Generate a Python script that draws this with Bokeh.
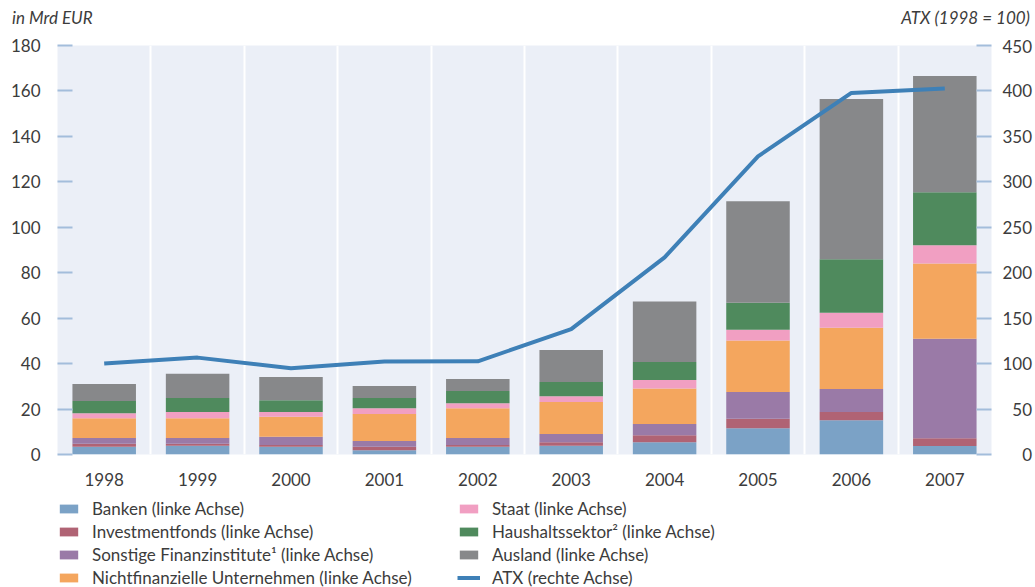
from bokeh.plotting import figure
from bokeh.layouts import column
from bokeh.models import (ColumnDataSource, Range1d, LinearAxis, FixedTicker,
                          Legend, LegendItem, Div)
from bokeh.embed import file_html
from bokeh.resources import INLINE

years = ["1998", "1999", "2000", "2001", "2002", "2003", "2004", "2005", "2006", "2007"]

banken = [3.4, 3.8, 3.4, 1.9, 3.4, 3.8, 5.4, 11.6, 15.1, 3.7]
investmentfonds = [1.3, 0.9, 0.8, 1.5, 0.8, 1.6, 3.1, 4.1, 3.6, 3.5]
sonstige = [2.6, 2.6, 3.6, 2.5, 3.1, 3.6, 4.9, 11.8, 10.1, 43.7]
nichtfin = [8.7, 8.7, 8.8, 11.9, 13.1, 14.1, 15.6, 22.7, 27.0, 33.2]
staat = [2.2, 2.7, 2.1, 2.6, 2.2, 2.5, 3.8, 4.7, 6.6, 8.0]
haushalt = [5.3, 6.2, 5.2, 4.5, 5.4, 6.3, 7.9, 11.9, 23.5, 23.3]
ausland = [7.5, 10.6, 10.2, 5.3, 5.2, 14.1, 26.6, 44.6, 70.5, 51.2]
atx = [100, 106.6, 94.9, 102.2, 102.5, 137.9, 216.9, 328, 397.8, 402.6]

series_names = ["Banken (linke Achse)", "Investmentfonds (linke Achse)",
                "Sonstige Finanzinstitute\u00b9 (linke Achse)",
                "Nichtfinanzielle Unternehmen (linke Achse)", "Staat (linke Achse)",
                "Haushaltssektor\u00b2 (linke Achse)", "Ausland (linke Achse)"]
atx_name = "ATX (rechte Achse)"
left_unit = "in Mrd EUR"
right_unit = "ATX (1998 = 100)"
colors = ["#7ba2c6", "#b06374", "#9a7aa7", "#f4a65e", "#f19fc2", "#4f8a5d", "#87888a"]
atx_color = "#3e80b7"

FONT = "Lato"
TXT = "#3c3c3c"
TICK = "#a3bddb"
W = 1035

keys = ["banken", "invest", "sonst", "nfu", "staat", "hh", "ausl"]
xs = [i + 0.5 for i in range(len(years))]
source = ColumnDataSource(dict(x=xs, banken=banken, invest=investmentfonds, sonst=sonstige,
                               nfu=nichtfin, staat=staat, hh=haushalt, ausl=ausland, atx=atx))

# ---------- top strip with unit labels ----------
top_html = (
    f'<div style="position:relative;width:{W}px;height:35px;font-family:{FONT};'
    f'font-style:italic;font-size:17px;color:{TXT};line-height:20px;">'
    f'<span style="position:absolute;left:12px;top:8px;white-space:nowrap;">{left_unit}</span>'
    f'<span style="position:absolute;right:5px;top:8px;white-space:nowrap;">{right_unit}</span>'
    '</div>'
)
top = Div(text=top_html, width=W, height=35, margin=(0, 0, 0, 0))

# ---------- main chart ----------
p = figure(width=W, height=460, output_backend="svg", toolbar_location=None,
           x_range=Range1d(0, len(years)), y_range=Range1d(0, 180),
           min_border_left=57, min_border_right=42, min_border_top=10, min_border_bottom=41)
p.extra_y_ranges = {"atx": Range1d(0, 450)}
p.background_fill_color = "#ebeff7"
p.outline_line_color = None

renderers = p.vbar_stack(keys, x="x", width=0.68, color=colors, line_color=None, source=source)
p.line("x", "atx", source=source, y_range_name="atx", line_color=atx_color, line_width=4)

p.ygrid.grid_line_color = None
p.xgrid.ticker = FixedTicker(ticks=list(range(1, len(years))))
p.xgrid.grid_line_color = "white"
p.xgrid.grid_line_width = 2

xa = p.xaxis[0]
xa.ticker = FixedTicker(ticks=xs)
xa.major_label_overrides = {x: y for x, y in zip(xs, years)}
xa.axis_line_color = None
xa.major_tick_line_color = None
xa.minor_tick_line_color = None
xa.major_label_standoff = 12
xa.major_label_text_font = FONT
xa.major_label_text_font_size = "17px"
xa.major_label_text_color = TXT

ya = p.yaxis[0]
ya.ticker = FixedTicker(ticks=list(range(0, 181, 20)))
ya.axis_line_color = None
ya.major_tick_in = 15
ya.major_tick_out = 0
ya.major_tick_line_color = TICK
ya.major_tick_line_width = 2
ya.minor_tick_line_color = None
ya.major_label_standoff = 17
ya.major_label_text_font = FONT
ya.major_label_text_font_size = "17px"
ya.major_label_text_color = TXT

ra = LinearAxis(y_range_name="atx")
ra.ticker = FixedTicker(ticks=list(range(0, 451, 50)))
ra.major_label_overrides = {0: "\u2007\u20070", 50: "\u200750"}
ra.axis_line_color = None
ra.major_tick_in = 15
ra.major_tick_out = 0
ra.major_tick_line_color = TICK
ra.major_tick_line_width = 2
ra.minor_tick_line_color = None
ra.major_label_standoff = 11
ra.major_label_text_font = FONT
ra.major_label_text_font_size = "17px"
ra.major_label_text_color = TXT
p.add_layout(ra, "right")

# ---------- legend strip ----------
LH = 92
leg = figure(width=W, height=LH, output_backend="svg", toolbar_location=None,
             x_range=Range1d(1000, 1100), y_range=Range1d(5000, 5100),
             x_axis_type=None, y_axis_type=None,
             min_border_left=57, min_border_right=42, min_border_top=0, min_border_bottom=0)
leg.outline_line_color = None
leg.grid.visible = False
proxies = leg.vbar_stack(keys, x="x", width=0.68, color=colors, line_color=None, source=source)
pline = leg.line("x", "atx", source=source, line_color=atx_color, line_width=4)

items1 = [LegendItem(label=series_names[i], renderers=[proxies[i]]) for i in range(4)]
items2 = [LegendItem(label=series_names[i], renderers=[proxies[i]]) for i in range(4, 7)]
items2.append(LegendItem(label=atx_name, renderers=[pline]))


def make_legend(items, loc):
    lg = Legend(items=items, location=loc, orientation="vertical")
    lg.background_fill_alpha = 0
    lg.border_line_color = None
    lg.padding = 0
    lg.margin = 0
    lg.spacing = 2
    lg.label_height = 20
    lg.glyph_height = 11
    lg.glyph_width = 23
    lg.label_standoff = 12
    lg.label_text_font = FONT
    lg.label_text_font_size = "17px"
    lg.label_text_color = TXT
    return lg


leg.add_layout(make_legend(items1, (0, -1)))
leg.add_layout(make_legend(items2, (400, -1)))

layout = column(top, p, leg, spacing=0)
open("out.html", "w").write(file_html(layout, INLINE))
